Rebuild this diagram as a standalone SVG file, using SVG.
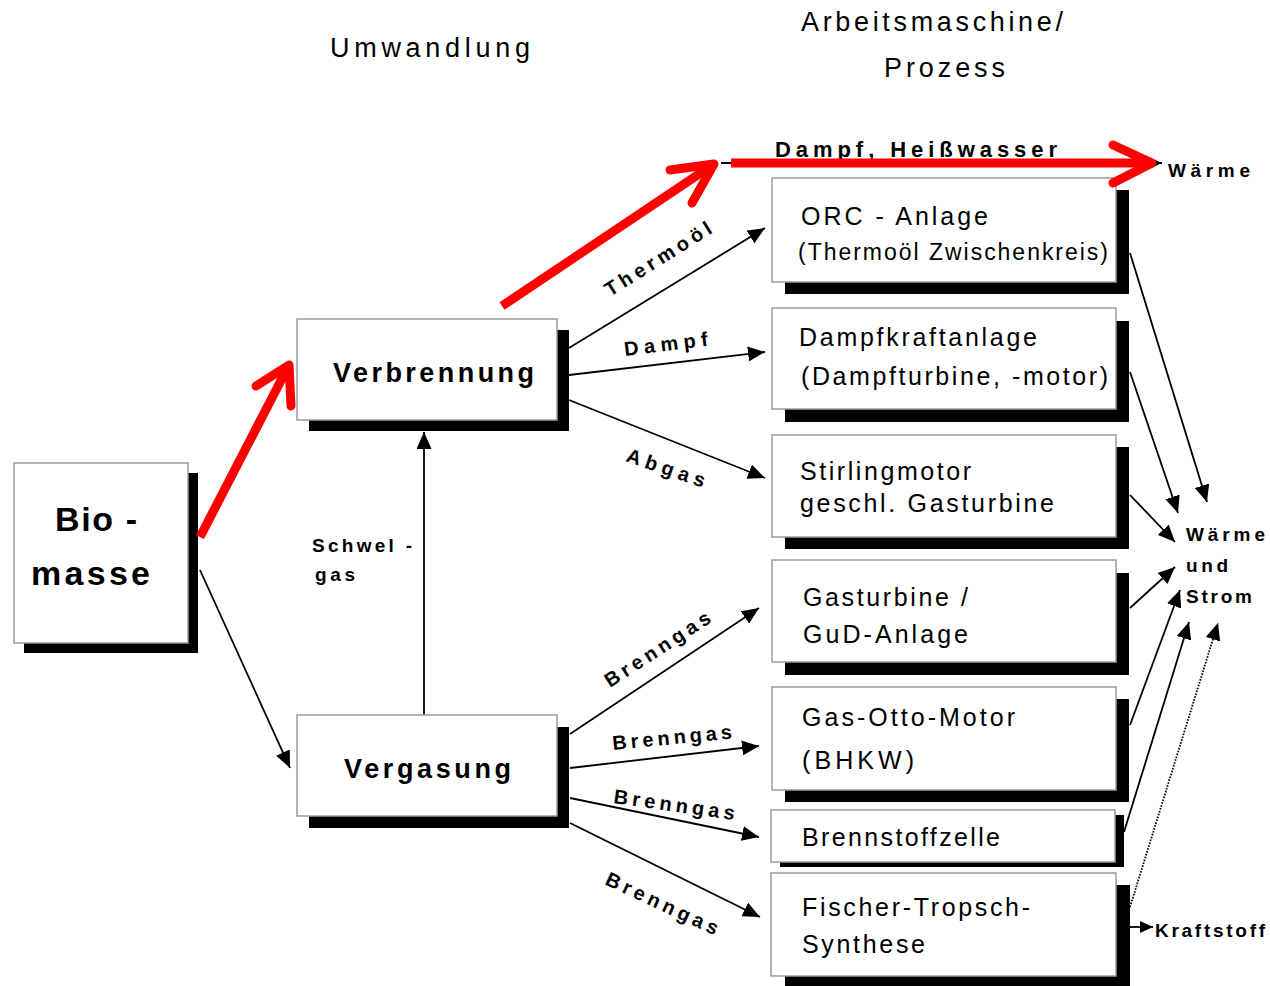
<svg xmlns="http://www.w3.org/2000/svg" width="1270" height="986" viewBox="0 0 1270 986">
<style>
text{font-family:"Liberation Sans",Arial,sans-serif;fill:#000}
.b{font-weight:bold}
.box{fill:#fff;stroke:#9a9a9a;stroke-width:1.5}
.sh{fill:#000}
.c{fill:none;stroke:#000;stroke-width:1.8}
.red{fill:none;stroke:#ff0000;stroke-width:9;stroke-linejoin:round}
</style>
<defs>
<marker id="ah" markerUnits="userSpaceOnUse" markerWidth="18" markerHeight="15" refX="17" refY="7.5" orient="auto"><path d="M0,0 L17,7.5 L0,15 z" fill="#000"/></marker>
<marker id="ahs" markerUnits="userSpaceOnUse" markerWidth="13" markerHeight="12" refX="13" refY="6" orient="auto"><path d="M0,0 L13,6 L0,12 z" fill="#000"/></marker>
</defs>

<g id="titles">
<text x="330" y="57" font-size="27" textLength="200" lengthAdjust="spacing">Umwandlung</text>
<text x="801" y="31" font-size="27" textLength="262" lengthAdjust="spacing">Arbeitsmaschine/</text>
<text x="884" y="77" font-size="27" textLength="121" lengthAdjust="spacing">Prozess</text>
</g>

<g id="connectors">
<line class="c" x1="200" y1="570" x2="290" y2="768" marker-end="url(#ah)"/>
<line class="c" x1="424" y1="715" x2="424" y2="432" marker-end="url(#ah)"/>
<line class="c" x1="569" y1="348" x2="765" y2="228" marker-end="url(#ah)"/>
<line class="c" x1="569" y1="375" x2="765" y2="352" marker-end="url(#ah)"/>
<line class="c" x1="569" y1="400" x2="765" y2="478" marker-end="url(#ah)"/>
<line class="c" x1="570" y1="734" x2="759" y2="608" marker-end="url(#ah)"/>
<line class="c" x1="570" y1="768" x2="759" y2="746" marker-end="url(#ah)"/>
<line class="c" x1="570" y1="798" x2="759" y2="837" marker-end="url(#ah)"/>
<line class="c" x1="570" y1="823" x2="760" y2="917" marker-end="url(#ah)"/>
<line class="c" x1="1130" y1="253" x2="1207" y2="502" marker-end="url(#ah)"/>
<line class="c" x1="1130" y1="372" x2="1178" y2="513" marker-end="url(#ah)"/>
<line class="c" x1="1130" y1="495" x2="1175" y2="542" marker-end="url(#ah)"/>
<line class="c" x1="1130" y1="608" x2="1175" y2="567" marker-end="url(#ah)"/>
<line class="c" x1="1130" y1="725" x2="1180" y2="590" marker-end="url(#ah)"/>
<line class="c" x1="1124" y1="832" x2="1189" y2="622" marker-end="url(#ah)"/>
<line class="c" x1="1130" y1="907" x2="1218" y2="623" stroke-width="2.6" stroke-dasharray="1.6,1.4" marker-end="url(#ah)"/>
<line class="c" x1="1130" y1="927" x2="1153" y2="927" marker-end="url(#ahs)"/>
<line class="c" x1="721" y1="163" x2="1162" y2="163" stroke-width="3" marker-end="url(#ahs)"/>
</g>

<g id="labels">
<text class="b" x="775" y="157" font-size="22" textLength="282" lengthAdjust="spacing">Dampf, Heißwasser</text>
<text class="b" x="1168" y="177" font-size="19" textLength="82" lengthAdjust="spacing">Wärme</text>
<text class="b" font-size="20" transform="translate(610,297) rotate(-32)" textLength="122" lengthAdjust="spacing">Thermoöl</text>
<text class="b" font-size="20" transform="translate(625,356) rotate(-7)" textLength="84" lengthAdjust="spacing">Dampf</text>
<text class="b" font-size="20" transform="translate(625,461) rotate(19)" textLength="82" lengthAdjust="spacing">Abgas</text>
<text class="b" x="312" y="552" font-size="19" textLength="100" lengthAdjust="spacing">Schwel -</text>
<text class="b" x="315" y="581" font-size="19" textLength="40" lengthAdjust="spacing">gas</text>
<text class="b" font-size="20" transform="translate(610,688) rotate(-33)" textLength="122" lengthAdjust="spacing">Brenngas</text>
<text class="b" font-size="20" transform="translate(613,750) rotate(-5.5)" textLength="120" lengthAdjust="spacing">Brenngas</text>
<text class="b" font-size="20" transform="translate(613,803) rotate(8)" textLength="122" lengthAdjust="spacing">Brenngas</text>
<text class="b" font-size="20" transform="translate(604,884) rotate(25)" textLength="122" lengthAdjust="spacing">Brenngas</text>
<text class="b" x="1186" y="541" font-size="19" textLength="79" lengthAdjust="spacing">Wärme</text>
<text class="b" x="1186" y="572" font-size="19" textLength="42" lengthAdjust="spacing">und</text>
<text class="b" x="1186" y="603" font-size="19" textLength="66" lengthAdjust="spacing">Strom</text>
<text class="b" x="1155" y="937" font-size="19" textLength="110" lengthAdjust="spacing">Kraftstoff</text>
</g>

<g id="biomasse">
<rect class="sh" x="24" y="473" width="174" height="180"/>
<rect class="box" x="14" y="463" width="174" height="180"/>
<text class="b" x="55" y="531" font-size="34" textLength="82" lengthAdjust="spacing">Bio -</text>
<text class="b" x="31" y="585" font-size="34" textLength="119" lengthAdjust="spacing">masse</text>
</g>
<g id="verbrennung">
<rect class="sh" x="309" y="330" width="260" height="101"/>
<rect class="box" x="297" y="319" width="260" height="101"/>
<text class="b" x="333" y="382" font-size="27" textLength="201" lengthAdjust="spacing">Verbrennung</text>
</g>
<g id="vergasung">
<rect class="sh" x="309" y="727" width="260" height="101"/>
<rect class="box" x="297" y="715" width="260" height="101"/>
<text class="b" x="344" y="778" font-size="27" textLength="167" lengthAdjust="spacing">Vergasung</text>
</g>
<g id="orc">
<rect class="sh" x="785" y="190" width="344" height="104"/>
<rect class="box" x="772" y="178" width="344" height="104"/>
<text x="801" y="225" font-size="25" textLength="187" lengthAdjust="spacing">ORC - Anlage</text>
<text x="798" y="260" font-size="23" textLength="310" lengthAdjust="spacing">(Thermoöl Zwischenkreis)</text>
</g>
<g id="dampfkraft">
<rect class="sh" x="785" y="321" width="344" height="101"/>
<rect class="box" x="772" y="308" width="344" height="101"/>
<text x="799" y="346" font-size="25" textLength="238" lengthAdjust="spacing">Dampfkraftanlage</text>
<text x="801" y="385" font-size="25" textLength="307" lengthAdjust="spacing">(Dampfturbine, -motor)</text>
</g>
<g id="stirling">
<rect class="sh" x="785" y="447" width="344" height="102"/>
<rect class="box" x="772" y="435" width="344" height="102"/>
<text x="800" y="480" font-size="25" textLength="171" lengthAdjust="spacing">Stirlingmotor</text>
<text x="800" y="512" font-size="25" textLength="254" lengthAdjust="spacing">geschl. Gasturbine</text>
</g>
<g id="gasturbine">
<rect class="sh" x="785" y="573" width="344" height="102"/>
<rect class="box" x="772" y="560" width="344" height="102"/>
<text x="803" y="606" font-size="25" textLength="165" lengthAdjust="spacing">Gasturbine /</text>
<text x="803" y="643" font-size="25" textLength="165" lengthAdjust="spacing">GuD-Anlage</text>
</g>
<g id="gasotto">
<rect class="sh" x="785" y="699" width="344" height="103"/>
<rect class="box" x="772" y="687" width="344" height="103"/>
<text x="802" y="726" font-size="25" textLength="213" lengthAdjust="spacing">Gas-Otto-Motor</text>
<text x="802" y="769" font-size="25" textLength="112" lengthAdjust="spacing">(BHKW)</text>
</g>
<g id="brennstoffzelle">
<rect class="sh" x="780" y="815" width="344" height="52"/>
<rect class="box" x="771" y="810" width="344" height="52"/>
<text x="802" y="846" font-size="25" textLength="198" lengthAdjust="spacing">Brennstoffzelle</text>
</g>
<g id="fischertropsch">
<rect class="sh" x="785" y="885" width="345" height="103"/>
<rect class="box" x="771" y="873" width="345" height="103"/>
<text x="802" y="916" font-size="25" textLength="228" lengthAdjust="spacing">Fischer-Tropsch-</text>
<text x="802" y="953" font-size="25" textLength="123" lengthAdjust="spacing">Synthese</text>
</g>

<g id="red-arrows">
<line class="red" x1="200" y1="537" x2="289" y2="365"/>
<polyline class="red" stroke-linecap="round" points="256,386 289,365 291,406"/>
<line class="red" x1="502" y1="306" x2="714" y2="164"/>
<polyline class="red" stroke-linecap="round" points="670,170 714,164 692,203"/>
<line class="red" x1="731" y1="163" x2="1152" y2="163"/>
<polyline class="red" stroke-linecap="round" points="1113,145 1152,163 1113,183"/>
</g>
</svg>
